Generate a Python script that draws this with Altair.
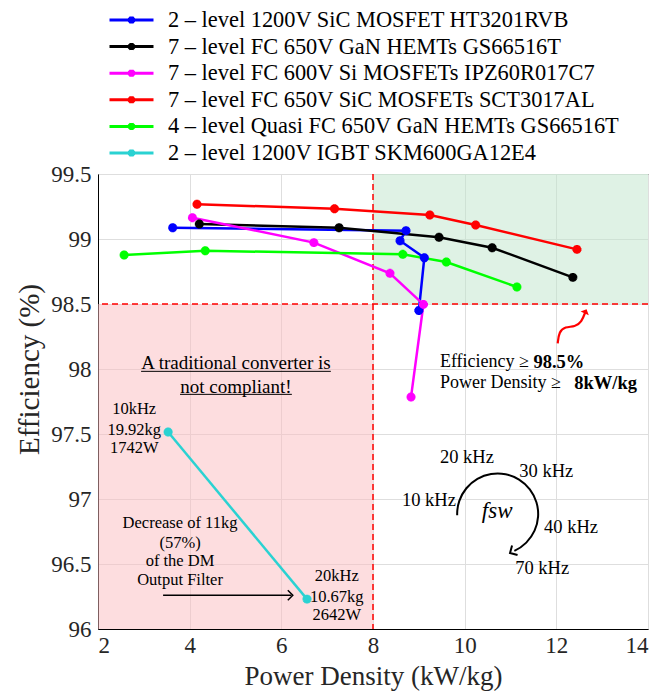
import altair as alt
import pandas as pd

# ---------------- data ----------------
names = [
    "2 – level 1200V SiC MOSFET HT3201RVB",
    "7 – level FC 650V GaN HEMTs GS66516T",
    "7 – level FC 600V Si MOSFETs IPZ60R017C7",
    "7 – level FC 650V SiC MOSFETs SCT3017AL",
    "4 – level Quasi FC 650V GaN HEMTs GS66516T",
    "2 – level 1200V IGBT SKM600GA12E4",
]
colors = ["#0000ff", "#000000", "#ff00ff", "#ff0000", "#00ff00", "#2ad2d2"]

blue_x = [3.63, 8.72, 8.59, 9.12, 9.00]
blue_y = [99.087, 99.064, 98.987, 98.856, 98.45]
black_x = [4.21, 7.26, 9.44, 10.60, 12.36]
black_y = [99.115, 99.087, 99.013, 98.933, 98.705]
magenta_x = [4.06, 6.71, 8.37, 9.10, 8.83]
magenta_y = [99.164, 98.972, 98.736, 98.497, 97.785]
red_x = [4.16, 7.16, 9.24, 10.24, 12.45]
red_y = [99.267, 99.233, 99.185, 99.108, 98.92]
green_x = [2.57, 4.34, 8.65, 9.60, 11.14]
green_y = [98.877, 98.910, 98.882, 98.823, 98.631]
cyan_x = [3.53, 6.56]
cyan_y = [97.515, 96.23]

x_ticks = [2, 4, 6, 8, 10, 12, 14]
y_ticks = [96, 96.5, 97, 97.5, 98, 98.5, 99, 99.5]

series_x = [blue_x, black_x, magenta_x, red_x, green_x, cyan_x]
series_y = [blue_y, black_y, magenta_y, red_y, green_y, cyan_y]

rows = []
for name, xs, ys in zip(names, series_x, series_y):
    for i, (xv, yv) in enumerate(zip(xs, ys)):
        rows.append({"series": name, "pd": xv, "eff": yv, "idx": i})
df = pd.DataFrame(rows)

FONT = "Liberation Serif, Times New Roman, serif"
xscale = alt.Scale(domain=[2, 14], nice=False, zero=False)
yscale = alt.Scale(domain=[96, 99.5], nice=False, zero=False)
xaxis = alt.Axis(values=x_ticks, title="Power Density (kW/kg)", labelExpr="toString(datum.value)")
yaxis = alt.Axis(values=y_ticks, title="Efficiency (%)", labelExpr="toString(datum.value)",
                 titleY=195)

def X(f="pd"):
    return alt.X(f + ":Q", scale=xscale, axis=xaxis)

def Y(f="eff"):
    return alt.Y(f + ":Q", scale=yscale, axis=yaxis)

legend_path = "M-1,0H1M0,-0.16V0.16M-0.12,-0.12L0.12,0.12M-0.12,0.12L0.12,-0.12M-0.16,0H0.16"
legend = alt.Legend(
    orient="none", legendX=10, legendY=-164, title=None,
    symbolType=legend_path, symbolSize=1936, symbolStrokeWidth=3,
    labelFont=FONT, labelFontSize=22.4, labelColor="black", labelLimit=0,
    rowPadding=3.6, clipHeight=20, labelOffset=13, padding=0,
)
color = alt.Color("series:N", scale=alt.Scale(domain=names, range=colors), legend=legend)

# ---------------- regions ----------------
regions = pd.DataFrame({
    "pd": [2, 8], "pd2": [8, 14], "eff": [96, 98.5], "eff2": [98.5, 99.5],
    "c": ["#fbbcc0", "#bfe6cc"],
})
rects = alt.Chart(regions).mark_rect(opacity=0.5).encode(
    x=X(), x2="pd2:Q", y=Y(), y2="eff2:Q", fill=alt.Fill("c:N", scale=None)
)

vline = alt.Chart(pd.DataFrame({"pd": [8]})).mark_rule(
    color="#ff0000", strokeDash=[6, 4], strokeWidth=1.5).encode(x=X())
hline = alt.Chart(pd.DataFrame({"eff": [98.5]})).mark_rule(
    color="#ff0000", strokeDash=[6, 4], strokeWidth=1.5).encode(y=Y())

lines = alt.Chart(df).mark_line(strokeWidth=2.5).encode(
    x=X(), y=Y(), color=color, order=alt.Order("idx:Q")
)
star = "M0,-1V1M-1,0H1M-0.7,-0.7L0.7,0.7M-0.7,0.7L0.7,-0.7"
points = alt.Chart(df).mark_point(shape=star, filled=False, size=80, strokeWidth=3, opacity=1).encode(
    x=X(), y=Y(), color=color
)

# ---------------- annotations ----------------
def text_layer(d, **kw):
    base = dict(font=FONT, color="black", baseline="middle")
    base.update(kw)
    return alt.Chart(pd.DataFrame(d)).mark_text(**base).encode(x=X(), y=Y(), text="t:N")

t_title = text_layer({"pd": [5.01, 5.01], "eff": [98.046, 97.862],
                      "t": ["A traditional converter is", "not compliant!"]},
                     fontSize=19, align="center")
underline = alt.Chart(pd.DataFrame({"pd": [2.94, 3.79], "pd2": [7.08, 6.23], "eff": [97.982, 97.805]})).mark_rule(
    color="black", strokeWidth=1).encode(x=X(), x2="pd2:Q", y=Y())

t_10 = text_layer({"pd": [2.79, 2.79, 2.79], "eff": [97.69, 97.53, 97.39],
                   "t": ["10kHz", "19.92kg", "1742W"]}, fontSize=16.5, align="center")
t_20 = text_layer({"pd": [7.21, 7.21, 7.21], "eff": [96.41, 96.25, 96.11],
                   "t": ["20kHz", "10.67kg", "2642W"]}, fontSize=16.5, align="center")
t_dec = text_layer({"pd": [3.79, 3.79, 3.79, 3.79], "eff": [96.815, 96.66, 96.52, 96.38],
                    "t": ["Decrease of 11kg", "(57%)", "of the DM", "Output Filter"]},
                   fontSize=16.5, align="center")
dec_arrow = alt.Chart(pd.DataFrame({"pd": [3.42], "pd2": [6.22], "eff": [96.26]})).mark_rule(
    color="black", strokeWidth=1.5).encode(x=X(), x2="pd2:Q", y=Y())
chevron = "M-1,1L0,0L1,1"
dec_head = alt.Chart(pd.DataFrame({"pd": [6.25], "eff": [96.26]})).mark_point(
    shape=chevron, filled=False, size=100, strokeWidth=1.5, color="black", angle=90, opacity=1
).encode(x=X(), y=Y())

t_req = text_layer({"pd": [9.46, 9.46], "eff": [98.054, 97.89],
                    "t": ["Efficiency ≥", "Power Density ≥"]}, fontSize=18, align="left")
t_req_b = alt.Chart(pd.DataFrame({"pd": [11.5, 12.39], "eff": [98.054, 97.89], "t": ["98.5%", "8kW/kg"]})).mark_text(
    font=FONT, color="black", baseline="middle", fontSize=18.5, fontWeight="bold", align="left"
).encode(x=X(), y=Y(), text="t:N")

red_curve = alt.Chart(pd.DataFrame({
    "pd": [12.03, 12.06, 12.19, 12.41, 12.55, 12.64],
    "eff": [98.197, 98.287, 98.325, 98.325, 98.36, 98.445],
    "idx": [0, 1, 2, 3, 4, 5]})).mark_line(color="#ff0000", strokeWidth=2.2, interpolate="basis").encode(
    x=X(), y=Y(), order="idx:Q")
red_head = alt.Chart(pd.DataFrame({"pd": [12.66], "eff": [98.46]})).mark_point(
    shape="M-1,1L0,0L1,1Z", filled=True, size=81, color="#ff0000", angle=25, opacity=1
).encode(x=X(), y=Y())

arc = alt.Chart(pd.DataFrame({"pd": [10.72], "eff": [96.885]})).mark_arc(
    radius=41.5, radius2=39.5, theta=4.68, theta2=9.0, color="black"
).encode(x=X(), y=Y())
arc_head = alt.Chart(pd.DataFrame({"pd": [10.99], "eff": [96.585]})).mark_point(
    shape=chevron, filled=False, size=121, strokeWidth=2, color="black", angle=240, opacity=1
).encode(x=X(), y=Y())
t_fsw = text_layer({"pd": [10.71], "eff": [96.91], "t": ["fsw"]}, fontSize=23, fontStyle="italic", align="center")
t_freq = text_layer({"pd": [10.05, 11.78, 9.22, 12.32, 11.69],
                     "eff": [97.32, 97.215, 96.99, 96.785, 96.47],
                     "t": ["20 kHz", "30 kHz", "10 kHz", "40 kHz", "70 kHz"]}, fontSize=18.5, align="center")

chart = alt.layer(
    rects, vline, hline, lines, points,
    t_title, underline, t_10, t_20, t_dec, dec_arrow, dec_head,
    t_req, t_req_b, red_curve, red_head, arc, arc_head, t_fsw, t_freq,
).properties(
    width=550, height=455,
    autosize=alt.AutoSizeParams(type="none"),
    padding={"left": 98, "top": 174, "right": 11, "bottom": 65},
).configure_view(
    stroke="black", strokeWidth=1
).configure_axis(
    labelFont=FONT, labelFontSize=23, labelColor="#262626",
    titleFont=FONT, titleFontSize=27, titleFontWeight="normal", titleColor="#262626",
    grid=True, gridColor="#dedede", domainColor="black", ticks=False,
).configure_axisX(labelPadding=5, titlePadding=6).configure_axisY(labelPadding=7, titlePadding=6, titleFontSize=29)

chart.save("out.html", embed_options={"renderer": "svg", "actions": False})
